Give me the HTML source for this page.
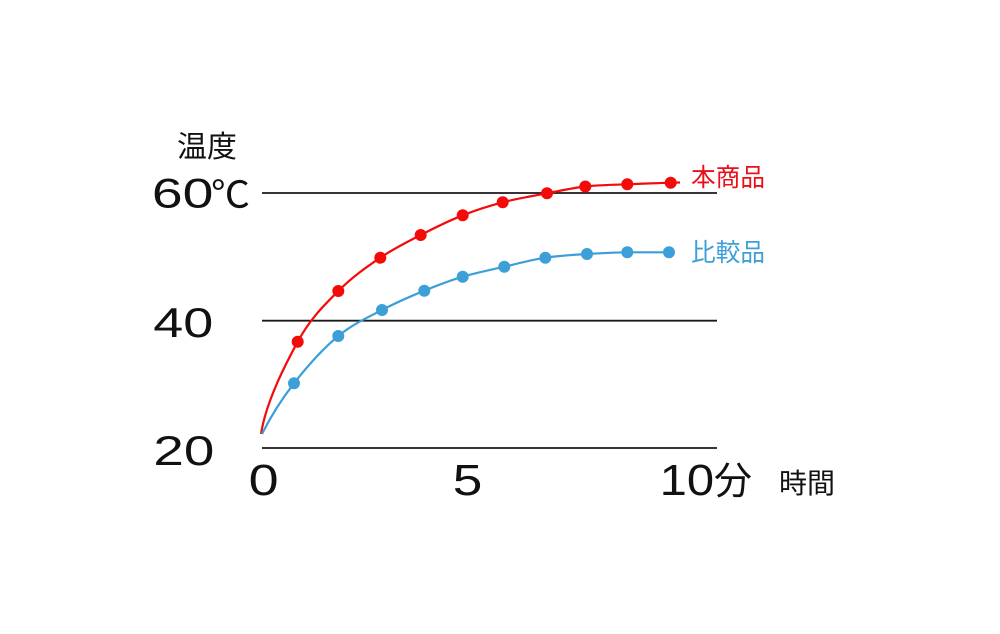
<!DOCTYPE html>
<html>
<head>
<meta charset="utf-8">
<style>
html,body{margin:0;padding:0;background:#fff;}
svg{display:block;}
.num{font-family:"Liberation Sans",sans-serif;fill:#111;}
.jp{font-family:"Liberation Sans","Noto Sans CJK JP",sans-serif;}
</style>
</head>
<body>
<svg width="1000" height="634" viewBox="0 0 1000 634" xmlns="http://www.w3.org/2000/svg">
  <rect width="1000" height="634" fill="#fff"/>
  <!-- gridlines -->
  <g stroke="#1a1a1a" stroke-width="1.8">
    <line x1="262" y1="193" x2="717" y2="193"/>
    <line x1="262" y1="320.7" x2="717" y2="320.7"/>
    <line x1="262" y1="448" x2="717" y2="448"/>
  </g>

  <!-- y labels -->
  <text class="jp" x="177" y="157" font-size="30" fill="#111">温度</text>
  <text class="num" x="151.9" y="207.5" font-size="42" textLength="61.5" lengthAdjust="spacingAndGlyphs">60</text>
  <text class="jp" x="211" y="207.5" font-size="37" fill="#111" textLength="39" lengthAdjust="spacingAndGlyphs">℃</text>
  <text class="num" x="153.3" y="337" font-size="42" textLength="60" lengthAdjust="spacingAndGlyphs">40</text>
  <text class="num" x="153.4" y="465" font-size="42" textLength="60.9" lengthAdjust="spacingAndGlyphs">20</text>

  <!-- x labels -->
  <text class="num" x="248.7" y="495" font-size="44" textLength="30" lengthAdjust="spacingAndGlyphs">0</text>
  <text class="num" x="452.8" y="495" font-size="44" textLength="29.6" lengthAdjust="spacingAndGlyphs">5</text>
  <text class="num" x="659.7" y="495" font-size="44" textLength="54.5" lengthAdjust="spacingAndGlyphs">10</text>
  <text class="jp" x="714" y="494" font-size="38" fill="#111">分</text>
  <text class="jp" x="779" y="493" font-size="28" fill="#111">時間</text>

  <!-- red series -->
  <path fill="none" stroke="#f50a0a" stroke-width="2.2"
    d="M261,434 C266,402 284.8,365.5 297.7,341.7
       C310.6,317.9 324.5,305 338.3,291
       C352.1,277 366.6,267 380.3,257.7
       C394,248.4 407,242.1 420.7,235
       C434.4,227.9 449,220.7 462.7,215.3
       C476.4,209.9 488.6,206 502.7,202.3
       C516.8,198.6 533.2,195.9 547,193.3
       C560.8,190.7 571.9,188 585.3,186.5
       C598.7,185 613.1,184.9 627.3,184.3
       C641.5,183.7 661.9,183 670.7,182.7
       L680,182.5"/>
  <g fill="#f50a0a">
    <circle cx="297.7" cy="341.7" r="6"/>
    <circle cx="338.3" cy="291" r="6"/>
    <circle cx="380.3" cy="257.7" r="6"/>
    <circle cx="420.7" cy="235" r="6"/>
    <circle cx="462.7" cy="215.3" r="6"/>
    <circle cx="502.7" cy="202.3" r="6"/>
    <circle cx="547" cy="193.3" r="6"/>
    <circle cx="585.3" cy="186.5" r="6"/>
    <circle cx="627.3" cy="184.3" r="6"/>
    <circle cx="670.7" cy="182.7" r="6"/>
  </g>

  <!-- blue series -->
  <path fill="none" stroke="#3d9fd8" stroke-width="2.2"
    d="M262,434 C270,418 281.3,399.6 294,383.3
       C306.7,367 323.6,348.2 338.3,336
       C353,323.8 367.7,317.6 382,310
       C396.3,302.5 410.9,296.2 424.3,290.7
       C437.8,285.2 449.4,280.7 462.7,276.7
       C476,272.7 490.5,269.9 504.3,266.7
       C518.1,263.5 531.5,259.8 545.3,257.7
       C559.1,255.6 573.3,254.9 587,254
       C600.7,253.1 613.6,252.6 627.3,252.3
       L669,252.3"/>
  <g fill="#3d9fd8">
    <circle cx="294" cy="383.3" r="6"/>
    <circle cx="338.3" cy="336" r="6"/>
    <circle cx="382" cy="310" r="6"/>
    <circle cx="424.3" cy="290.7" r="6"/>
    <circle cx="462.7" cy="276.7" r="6"/>
    <circle cx="504.3" cy="266.7" r="6"/>
    <circle cx="545.3" cy="257.7" r="6"/>
    <circle cx="587" cy="254" r="6"/>
    <circle cx="627.3" cy="252.3" r="6"/>
    <circle cx="669" cy="252.3" r="6"/>
  </g>

  <!-- series labels -->
  <text class="jp" x="691" y="186" font-size="25" fill="#e8101a" textLength="74" lengthAdjust="spacingAndGlyphs">本商品</text>
  <text class="jp" x="691" y="261" font-size="25" fill="#3d9fd8" textLength="74" lengthAdjust="spacingAndGlyphs">比較品</text>
</svg>
</body>
</html>
